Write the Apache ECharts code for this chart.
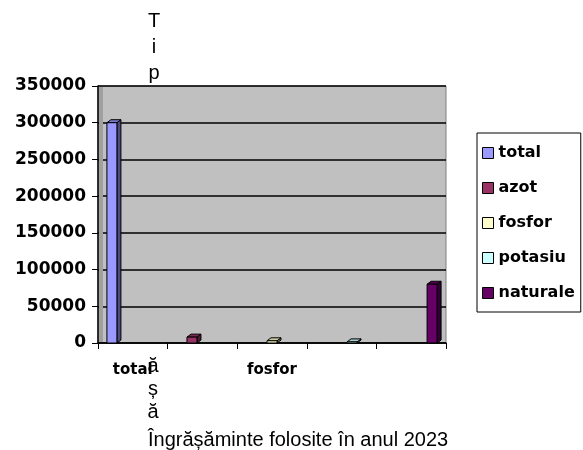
<!DOCTYPE html>
<html>
<head>
<meta charset="utf-8">
<script src="https://cdn.jsdelivr.net/npm/echarts@6/dist/echarts.min.js"></script>
<style>html,body{margin:0;padding:0;background:#fff;}#c{width:583px;height:450px;}</style>
</head>
<body>
<div id="c"></div>
<script>
var categories = ['total', 'azot', 'fosfor', 'potasiu', 'naturale'];
var seriesNames = ['total', 'azot', 'fosfor', 'potasiu', 'naturale'];
var seriesValues = [300000, 8000, 3000, 1500, 80000];
var seriesColors = ['#9999ff', '#993366', '#ffffcc', '#ccffff', '#660066'];
var sideColors = ['#4c4c80', '#4d1a33', '#808066', '#668080', '#330033'];
var topColors = ['#7a7acc', '#7a2952', '#cccca3', '#a3cccc', '#520052'];
var yTicks = [0, 50000, 100000, 150000, 200000, 250000, 300000, 350000];
var shownLabels = ['total', 'fosfor'];

var chart = echarts.init(document.getElementById('c'));
var boldFont = 'DejaVu Sans';

function makeRender(si) {
  return function (params, api) {
    var cat = api.value(0);
    var val = api.value(1);
    var top = api.coord([cat, val]);
    var base = api.coord([cat, 0]);
    var band = api.size([1, 0])[0];
    var w = 10, dx = 4, dy = 3;
    var cx = top[0] + (si - 2) * 0.15 * band;
    var x = cx - w / 2;
    var yT = top[1], yB = base[1];
    var st = { stroke: '#000', lineWidth: 1 };
    return {
      type: 'group',
      children: [
        { type: 'polygon', shape: { points: [[x + w, yT], [x + w + dx, yT - dy], [x + w + dx, yB - dy], [x + w, yB]] },
          style: Object.assign({ fill: sideColors[si] }, st) },
        { type: 'polygon', shape: { points: [[x, yT], [x + dx, yT - dy], [x + w + dx, yT - dy], [x + w, yT]] },
          style: Object.assign({ fill: topColors[si] }, st) },
        { type: 'rect', shape: { x: x, y: yT, width: w, height: yB - yT },
          style: Object.assign({ fill: seriesColors[si] }, st) }
      ]
    };
  };
}

var series = seriesNames.map(function (name, i) {
  return {
    name: name,
    type: 'custom',
    renderItem: makeRender(i),
    itemStyle: { color: seriesColors[i] },
    encode: { x: 0, y: 1 },
    data: [[i, seriesValues[i]]],
    z: 3
  };
});

chart.setOption({
  animation: false,
  backgroundColor: '#fff',
  grid: {
    left: 98, right: 137, top: 86, bottom: 107,
    show: true, backgroundColor: '#c0c0c0', borderColor: '#808080', borderWidth: 1
  },
  legend: {
    orient: 'vertical',
    left: 477, top: 133,
    itemWidth: 11, itemHeight: 11, itemGap: 19,
    icon: 'rect',
    itemStyle: { borderColor: '#000', borderWidth: 1 },
    borderColor: '#000', borderWidth: 1, padding: [12, 6, 11, 5],
    textStyle: { fontFamily: boldFont, fontWeight: 'bold', fontSize: 16, color: '#000' },
    data: seriesNames
  },
  xAxis: {
    type: 'category',
    data: categories,
    axisLine: { lineStyle: { color: '#000', width: 1.5 } },
    axisTick: { show: true, interval: 0, length: 6, lineStyle: { color: '#000' } },
    axisLabel: {
      interval: 0,
      margin: 20,
      fontFamily: boldFont, fontWeight: 'bold', fontSize: 15, color: '#000',
      formatter: function (v) { return shownLabels.indexOf(v) >= 0 ? v : ''; }
    }
  },
  yAxis: {
    type: 'value',
    min: yTicks[0], max: yTicks[yTicks.length - 1], interval: 50000,
    axisLine: { show: true, lineStyle: { color: '#000', width: 1.5 } },
    axisTick: { show: true, length: 6, lineStyle: { color: '#000' } },
    axisLabel: { fontFamily: boldFont, fontWeight: 'bold', fontSize: 17, color: '#000', margin: 12,
      formatter: function (v) { return String(v); } },
    splitLine: { lineStyle: { color: '#000', width: 1.5 } }
  },
  graphic: [
    { type: 'rect', left: 99, top: 87, shape: { width: 4, height: 255 }, style: { fill: '#a0a0a0' }, z: 1 },
    { type: 'text', x: 154, y: 8, style: { text: 'T\ni\np', fontFamily: 'Liberation Sans', fontSize: 20, lineHeight: 26, fill: '#000', align: 'center', verticalAlign: 'top' }, z: 10 },
    { type: 'text', x: 153, y: 355, style: { text: 'ă\nș\nă', fontFamily: 'Liberation Sans', fontSize: 20, lineHeight: 23, fill: '#000', align: 'center', verticalAlign: 'top' }, z: 10 },
    { type: 'text', x: 148, y: 440, style: { text: 'Îngrășăminte folosite în anul 2023', fontFamily: 'Liberation Sans', fontSize: 20, fill: '#000', align: 'left', verticalAlign: 'middle' }, z: 10 }
  ],
  series: series
});
</script>
</body>
</html>
